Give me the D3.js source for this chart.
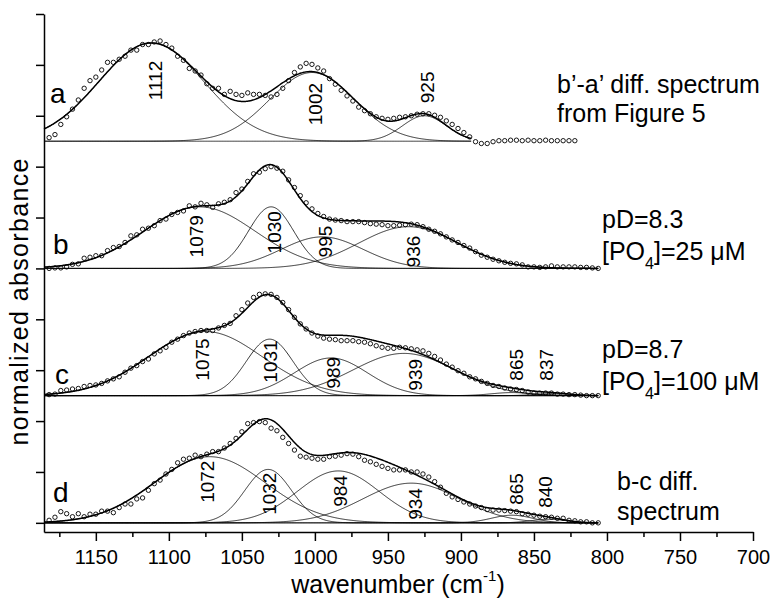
<!DOCTYPE html>
<html>
<head>
<meta charset="utf-8">
<script src="https://cdn.jsdelivr.net/npm/d3@7"></script>
<style>
  body { margin: 0; background: #fff; }
  text, tspan { font-family: "Liberation Sans", Arial, sans-serif; fill: #000; }
</style>
</head>
<body>
<div id="chart-area"></div>
<script>
// sampling grid of the measured spectra (cm-1)
var sampleStart = 1182, sampleStep = 4;

// measured points, normalized absorbance above each trace's own baseline
var spectrumA = [
  0.07, 0.13, 0.33, 0.48, 0.63, 0.81, 1.04, 1.19, 1.26, 1.40,
  1.55, 1.55, 1.61, 1.67, 1.79, 1.79, 1.90, 1.90, 1.95, 1.97,
  1.90, 1.83, 1.67, 1.59, 1.43, 1.38, 1.30, 1.13, 1.04, 1.04,
  0.92, 0.98, 0.92, 0.90, 0.95, 0.92, 0.92, 0.90, 0.87, 0.92,
  1.04, 1.19, 1.35, 1.46, 1.53, 1.51, 1.44, 1.38, 1.23, 1.12,
  1.00, 0.89, 0.79, 0.67, 0.60, 0.54, 0.48, 0.45, 0.43, 0.45,
  0.47, 0.48, 0.50, 0.53, 0.54, 0.54, 0.51, 0.47, 0.40, 0.33,
  0.25, 0.17, 0.085, -0.01, -0.045, -0.045, -0.01, 0.01, 0.01, 0.02,
  0.02, 0.01, 0.02, 0.01, 0.01, 0.02, 0.01, 0.01, 0.01, 0.01,
  0.01
];
var spectrumB = [
  0.00, 0.01, 0.01, 0.03, 0.08, 0.09, 0.20, 0.22, 0.25, 0.25,
  0.35, 0.41, 0.43, 0.51, 0.64, 0.66, 0.77, 0.79, 0.84, 0.94,
  0.97, 1.06, 1.10, 1.13, 1.23, 1.21, 1.28, 1.25, 1.20, 1.27,
  1.30, 1.35, 1.49, 1.56, 1.71, 1.86, 1.89, 1.96, 2.00, 1.97,
  1.91, 1.74, 1.59, 1.43, 1.29, 1.17, 1.08, 1.02, 0.97, 0.95,
  0.94, 0.92, 0.92, 0.92, 0.90, 0.88, 0.87, 0.86, 0.84, 0.84,
  0.85, 0.86, 0.87, 0.86, 0.82, 0.77, 0.73, 0.68, 0.62, 0.56,
  0.51, 0.45, 0.40, 0.33, 0.26, 0.22, 0.18, 0.15, 0.12, 0.10,
  0.09, 0.07, 0.03, 0.03, 0.02, 0.03, 0.05, 0.03, 0.03, 0.03,
  0.03, 0.02, 0.02, 0.01, 0.00
];
var spectrumC = [
  0.02, 0.03, 0.10, 0.11, 0.13, 0.14, 0.18, 0.20, 0.21, 0.24,
  0.29, 0.33, 0.37, 0.46, 0.54, 0.59, 0.67, 0.72, 0.82, 0.88,
  0.95, 1.05, 1.11, 1.18, 1.23, 1.26, 1.28, 1.28, 1.28, 1.33,
  1.38, 1.42, 1.57, 1.69, 1.82, 1.93, 1.99, 2.00, 1.99, 1.93,
  1.83, 1.69, 1.54, 1.41, 1.31, 1.23, 1.17, 1.13, 1.11, 1.10,
  1.08, 1.08, 1.08, 1.06, 1.05, 1.02, 0.98, 0.95, 0.93, 0.93,
  0.95, 0.94, 0.92, 0.90, 0.88, 0.83, 0.77, 0.70, 0.62, 0.56,
  0.49, 0.44, 0.37, 0.33, 0.28, 0.24, 0.20, 0.18, 0.15, 0.13,
  0.12, 0.10, 0.07, 0.05, 0.05, 0.05, 0.05, 0.03, 0.03, 0.02,
  0.02, 0.01, 0.00, 0.00, 0.00
];
var spectrumD = [
  0.05, 0.11, 0.22, 0.18, 0.12, 0.18, 0.12, 0.17, 0.17, 0.23,
  0.23, 0.20, 0.30, 0.37, 0.37, 0.47, 0.49, 0.64, 0.77, 0.84,
  0.96, 1.05, 1.18, 1.25, 1.27, 1.33, 1.30, 1.35, 1.40, 1.40,
  1.47, 1.56, 1.66, 1.79, 1.95, 1.97, 1.99, 1.97, 1.86, 1.81,
  1.68, 1.56, 1.43, 1.31, 1.29, 1.27, 1.25, 1.25, 1.30, 1.31,
  1.33, 1.36, 1.35, 1.30, 1.23, 1.20, 1.15, 1.11, 1.07, 1.04,
  1.04, 1.04, 1.00, 1.00, 0.96, 0.90, 0.81, 0.70, 0.58, 0.51,
  0.46, 0.41, 0.37, 0.33, 0.30, 0.26, 0.25, 0.25, 0.24, 0.23,
  0.22, 0.18, 0.17, 0.15, 0.13, 0.12, 0.11, 0.09, 0.09, 0.05,
  0.04, 0.02, 0.02, 0.00, 0.00
];

// fitted gaussian bands: centre (cm-1), height, sigma (cm-1)
var bandCentersA = [1112, 1002, 925];
var bandHeightsA = [1.93, 1.35, 0.50];
var bandSigmasA  = [36, 29, 15];

var bandCentersB = [1079, 1030, 995, 936];
var bandHeightsB = [1.21, 1.21, 0.62, 0.82];
var bandSigmasB  = [38, 15.5, 28, 34];

var bandCentersC = [1075, 1031, 989, 939, 865, 837];
var bandHeightsC = [1.26, 1.11, 0.74, 0.83, 0.06, 0.04];
var bandSigmasC  = [39, 16, 25, 35, 14, 12];

var bandCentersD = [1072, 1032, 984, 934, 865, 840];
var bandHeightsD = [1.30, 1.05, 1.02, 0.78, 0.15, 0.07];
var bandSigmasD  = [38, 16, 28, 33, 14, 12];

// trace offsets on the shared absorbance axis and fit range ends
var traceOffsets = [7.5, 5, 2.5, 0];
var fitEnds = [893, 806, 806, 806];
var traceLetters = ['a', 'b', 'c', 'd'];

var xMajorTicks = [1150, 1100, 1050, 1000, 950, 900, 850, 800, 750, 700];
var xMinorTicks = [1175, 1125, 1075, 1025, 975, 925, 875, 825, 775, 725];
var yTicks = [0, 1, 2, 3, 4, 5, 6, 7, 8, 9, 10];

var traces = [
  { pts: spectrumA, c: bandCentersA, h: bandHeightsA, s: bandSigmasA },
  { pts: spectrumB, c: bandCentersB, h: bandHeightsB, s: bandSigmasB },
  { pts: spectrumC, c: bandCentersC, h: bandHeightsC, s: bandSigmasC },
  { pts: spectrumD, c: bandCentersD, h: bandHeightsD, s: bandSigmasD }
];

// label placement (layout only): [dx from band centre px, lift above baseline px]
var labelLayout = [
  [[4, 41], [3, 16], [3, 38]],
  [[-3, 11], [3, 15], [3, 11], [5, 1]],
  [[-3, 15], [1, 13], [2, 7], [11, 5], [4, 15], [-7, 15]],
  [[-3, 20], [1, 8], [2, 16], [4, 3], [4, 18], [-3, 15]]
];
var letterLayout = [[50, 38], [53, 14], [55, 12], [53, 21]];

var width = 773, height = 602;

var svg = d3.select('#chart-area')
  .append('svg')
    .attr('width', width)
    .attr('height', height);

var x = d3.scaleLinear().domain([1185.5, 700]).range([44, 753]);
var y = d3.scaleLinear().domain([-0.18, 10]).range([532, 14]);

var gauss = (w, c, h, s) => h * Math.exp(-(w - c) * (w - c) / (2 * s * s));

traces.forEach((t, k) => {
  var off = traceOffsets[k];
  var g = svg.append('g').attr('class', 'trace');
  var grid = d3.range(1185.5, fitEnds[k] - 0.01, -0.5);

  // component bands
  t.c.forEach((c, i) => {
    g.append('path')
      .datum(grid)
      .attr('fill', 'none')
      .attr('stroke', '#000')
      .attr('stroke-width', 0.8)
      .attr('d', d3.line()
        .x(w => x(w))
        .y(w => y(off + gauss(w, c, t.h[i], t.s[i]))));
  });

  // total fit
  g.append('path')
    .datum(grid)
    .attr('fill', 'none')
    .attr('stroke', '#000')
    .attr('stroke-width', 1.5)
    .attr('d', d3.line()
      .x(w => x(w))
      .y(w => y(off + d3.sum(t.c, (c, i) => gauss(w, c, t.h[i], t.s[i])))));

  // measured points
  g.selectAll('circle')
    .data(t.pts)
    .enter()
    .append('circle')
      .attr('cx', (v, i) => x(sampleStart - i * sampleStep))
      .attr('cy', v => y(off + v))
      .attr('r', 2.2)
      .attr('fill', 'none')
      .attr('stroke', '#000')
      .attr('stroke-width', 0.9);

  // band labels
  t.c.forEach((c, i) => {
    var lay = labelLayout[k][i];
    g.append('text')
      .attr('transform', 'translate(' + (x(c) + lay[0]) + ',' + (y(off) - lay[1]) + ') rotate(-90)')
      .attr('dy', '0.36em')
      .attr('font-size', '19px')
      .text(c);
  });

  g.append('text')
    .attr('x', letterLayout[k][0])
    .attr('y', y(off) - letterLayout[k][1])
    .attr('font-size', '28px')
    .text(traceLetters[k]);
});

// axes
var xAxisGroup = svg.append('g')
  .attr('transform', 'translate(0,' + y(-0.18) + ')');
xAxisGroup.call(d3.axisBottom(x).tickValues(xMajorTicks).tickSize(9).tickSizeOuter(0).tickPadding(9).tickFormat(d3.format('d')));
xAxisGroup.selectAll('text').attr('font-size', '20px');

svg.append('g')
  .attr('transform', 'translate(0,' + y(-0.18) + ')')
  .call(d3.axisBottom(x).tickValues(xMinorTicks).tickSize(5).tickSizeOuter(0).tickFormat(''))
  .select('.domain').remove();

svg.append('g')
  .attr('transform', 'translate(' + x(1185.5) + ',0)')
  .call(d3.axisLeft(y).tickValues(yTicks).tickSize(8).tickSizeOuter(0).tickFormat(''));

svg.selectAll('.domain, .tick line').attr('stroke', '#000').attr('stroke-width', 1.5);

// axis titles
svg.append('text')
  .attr('transform', 'translate(28,302) rotate(-90)')
  .attr('text-anchor', 'middle')
  .attr('font-size', '25px')
  .attr('textLength', 287)
  .attr('lengthAdjust', 'spacing')
  .text('normalized absorbance');

var xTitle = svg.append('text')
  .attr('x', 398)
  .attr('y', 593)
  .attr('text-anchor', 'middle')
  .attr('font-size', '25px');
xTitle.append('tspan').text('wavenumber (cm');
xTitle.append('tspan').attr('font-size', '15px').attr('dy', -12).text('-1');
xTitle.append('tspan').attr('dy', 12).text(')');

// sample annotations: plain line, or line with a subscript in the middle
function note(xp, yp, before, sub, after) {
  var t = svg.append('text').attr('x', xp).attr('y', yp).attr('font-size', '25px');
  t.append('tspan').text(before);
  if (sub) {
    t.append('tspan').attr('font-size', '16px').attr('dy', 9).text(sub);
    t.append('tspan').attr('dy', -9).text(after);
  }
}
note(557, 93, 'b\u2019-a\u2019 diff. spectrum');
note(557, 122, 'from Figure 5');
note(602, 228, 'pD=8.3');
note(602, 260, '[PO', '4', ']=25 \u03bcM');
note(602, 358, 'pD=8.7');
note(602, 390, '[PO', '4', ']=100 \u03bcM');
note(617, 490, 'b-c diff.');
note(617, 520, 'spectrum');
</script>
</body>
</html>
